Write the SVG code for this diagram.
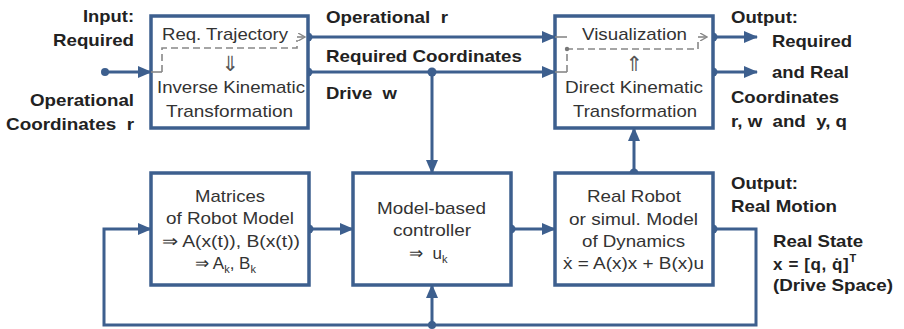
<svg xmlns="http://www.w3.org/2000/svg" width="904" height="329" viewBox="0 0 904 329">
<style>
.box{fill:#fff;stroke:#3d5f8e;stroke-width:3.5}
.ln{fill:none;stroke:#3d5f8e;stroke-width:3}
.dot{fill:#3d5f8e}
.dash{fill:none;stroke:#888;stroke-width:1.6;stroke-dasharray:7 4}
.thin{fill:none;stroke:#888;stroke-width:1.6}
.t{font-family:"Liberation Sans",Arial,sans-serif;font-size:17px;fill:#333;white-space:pre}
.b{font-family:"Liberation Sans",Arial,sans-serif;font-size:17px;font-weight:bold;fill:#222;white-space:pre}
.sym{font-family:"DejaVu Sans",sans-serif;font-size:21px;fill:#555}
</style>
<defs>
<marker id="ah" markerUnits="userSpaceOnUse" markerWidth="14" markerHeight="12" refX="13" refY="6" orient="auto">
<path d="M0,0 L14,6 L0,12 Z" fill="#3d5f8e"/>
</marker>
<marker id="sa" markerUnits="userSpaceOnUse" markerWidth="8" markerHeight="8" refX="7" refY="4" orient="auto">
<path d="M0,0 L7,4 L0,8" fill="none" stroke="#888" stroke-width="1.4"/>
</marker>
</defs>

<g id="connectors">
<line class="ln" x1="105" y1="72" x2="151" y2="72" marker-end="url(#ah)"/>
<circle class="dot" cx="105" cy="72" r="4"/>
<line class="ln" x1="308" y1="37" x2="555" y2="37" marker-end="url(#ah)"/>
<line class="ln" x1="308" y1="72" x2="555" y2="72" marker-end="url(#ah)"/>
<circle class="dot" cx="308" cy="37" r="4.5"/>
<circle class="dot" cx="308" cy="72" r="4.5"/>
<line class="ln" x1="432" y1="72" x2="432" y2="173" marker-end="url(#ah)"/>
<circle class="dot" cx="432" cy="72" r="4.5"/>
<line class="ln" x1="713" y1="37" x2="757" y2="37" marker-end="url(#ah)"/>
<line class="ln" x1="713" y1="72" x2="757" y2="72" marker-end="url(#ah)"/>
<circle class="dot" cx="713" cy="37" r="4.5"/>
<circle class="dot" cx="713" cy="72" r="4.5"/>
<line class="ln" x1="309" y1="229" x2="353" y2="229" marker-end="url(#ah)"/>
<circle class="dot" cx="309" cy="229" r="4.5"/>
<line class="ln" x1="511" y1="229" x2="555" y2="229" marker-end="url(#ah)"/>
<circle class="dot" cx="511" cy="229" r="4.5"/>
<polyline class="ln" points="713,229 756,229 756,325 104,325 104,229 151,229" marker-end="url(#ah)"/>
<circle class="dot" cx="713" cy="229" r="4.5"/>
<line class="ln" x1="432" y1="325" x2="432" y2="285" marker-end="url(#ah)"/>
<circle class="dot" cx="432" cy="325" r="4"/>
<line class="ln" x1="634" y1="173" x2="634" y2="128" marker-end="url(#ah)"/>
<circle class="dot" cx="634" cy="173" r="4.5"/>
</g>

<g id="n-inverse">
<rect class="box" x="151" y="16" width="157" height="112"/>
<polyline class="thin" points="151,72 162,72"/>
<polyline class="dash" points="162,72 162,48 297,48 297,40"/>
<line class="thin" x1="297" y1="37" x2="305" y2="37" marker-end="url(#sa)"/>
<text class="t" x="162" y="40" textLength="126" lengthAdjust="spacingAndGlyphs">Req. Trajectory</text>
<text class="sym" x="230" y="71" text-anchor="middle">⇓</text>
<text class="t" x="157" y="93" textLength="148" lengthAdjust="spacingAndGlyphs">Inverse Kinematic</text>
<text class="t" x="166" y="117" textLength="127" lengthAdjust="spacingAndGlyphs">Transformation</text>
</g>

<g id="n-direct">
<rect class="box" x="555" y="16" width="158" height="112"/>
<line class="thin" x1="555" y1="37" x2="567" y2="37"/>
<line class="thin" x1="555" y1="72" x2="567" y2="72"/>
<polyline class="dash" points="567,72 567,49 698,49 698,40"/>
<circle cx="567" cy="49" r="2.2" fill="#777"/>
<line class="thin" x1="698" y1="37" x2="707" y2="37" marker-end="url(#sa)"/>
<text class="t" x="582" y="40" textLength="105" lengthAdjust="spacingAndGlyphs">Visualization</text>
<text class="sym" x="634" y="71" text-anchor="middle">⇑</text>
<text class="t" x="565" y="93" textLength="138" lengthAdjust="spacingAndGlyphs">Direct Kinematic</text>
<text class="t" x="573" y="117" textLength="124" lengthAdjust="spacingAndGlyphs">Transformation</text>
</g>

<g id="n-matrices">
<rect class="box" x="151" y="173" width="158" height="112"/>
<text class="t" x="195" y="202" textLength="70" lengthAdjust="spacingAndGlyphs">Matrices</text>
<text class="t" x="166" y="224" textLength="128" lengthAdjust="spacingAndGlyphs">of Robot Model</text>
<text class="t" x="162" y="247" textLength="138" lengthAdjust="spacingAndGlyphs">⇒ A(x(t)), B(x(t))</text>
<text class="t" x="195" y="269">⇒ A<tspan font-size="11" dy="4">k</tspan><tspan dy="-4">, B</tspan><tspan font-size="11" dy="4">k</tspan></text>
</g>

<g id="n-controller">
<rect class="box" x="353" y="173" width="158" height="112"/>
<text class="t" x="377" y="214" textLength="109" lengthAdjust="spacingAndGlyphs">Model-based</text>
<text class="t" x="393" y="236" textLength="78" lengthAdjust="spacingAndGlyphs">controller</text>
<text class="t" x="409" y="259">⇒  u<tspan font-size="11" dy="4">k</tspan></text>
</g>

<g id="n-robot">
<rect class="box" x="555" y="173" width="158" height="112"/>
<text class="t" x="587" y="202" textLength="94" lengthAdjust="spacingAndGlyphs">Real Robot</text>
<text class="t" x="569" y="225" textLength="129" lengthAdjust="spacingAndGlyphs">or simul. Model</text>
<text class="t" x="582" y="247" textLength="103" lengthAdjust="spacingAndGlyphs">of Dynamics</text>
<text class="t" x="563" y="269" textLength="141" lengthAdjust="spacingAndGlyphs">ẋ = A(x)x + B(x)u</text>
</g>

<g id="labels">
<text class="b" x="83" y="22" textLength="51" lengthAdjust="spacingAndGlyphs">Input:</text>
<text class="b" x="53" y="46" textLength="81" lengthAdjust="spacingAndGlyphs">Required</text>
<text class="b" x="30" y="106" textLength="104" lengthAdjust="spacingAndGlyphs">Operational</text>
<text class="b" x="6" y="130" textLength="128" lengthAdjust="spacingAndGlyphs">Coordinates  r</text>
<text class="b" x="326" y="23" textLength="122" lengthAdjust="spacingAndGlyphs">Operational  r</text>
<text class="b" x="326" y="62" textLength="196" lengthAdjust="spacingAndGlyphs">Required Coordinates</text>
<text class="b" x="326" y="99" textLength="71" lengthAdjust="spacingAndGlyphs">Drive  w</text>
<text class="b" x="731" y="23" textLength="67" lengthAdjust="spacingAndGlyphs">Output:</text>
<text class="b" x="772" y="47" textLength="80" lengthAdjust="spacingAndGlyphs">Required</text>
<text class="b" x="772" y="78" textLength="77" lengthAdjust="spacingAndGlyphs">and Real</text>
<text class="b" x="731" y="103" textLength="108" lengthAdjust="spacingAndGlyphs">Coordinates</text>
<text class="b" x="731" y="127" textLength="116" lengthAdjust="spacingAndGlyphs">r, w  and  y, q</text>
<text class="b" x="731" y="189" textLength="67" lengthAdjust="spacingAndGlyphs">Output:</text>
<text class="b" x="731" y="212" textLength="106" lengthAdjust="spacingAndGlyphs">Real Motion</text>
<text class="b" x="773" y="247" textLength="90" lengthAdjust="spacingAndGlyphs">Real State</text>
<text class="b" x="773" y="270" font-size="18" letter-spacing="0.6">x = [q, q̇]<tspan font-size="11" dy="-8">T</tspan></text>
<text class="b" x="773" y="291" textLength="120" lengthAdjust="spacingAndGlyphs">(Drive Space)</text>
</g>
</svg>
